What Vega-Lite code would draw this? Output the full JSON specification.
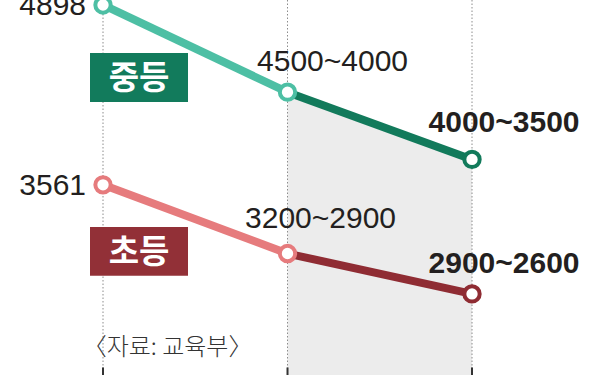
{
  "$schema": "https://vega.github.io/schema/vega-lite/v6.json",
  "width": 615,
  "height": 375,
  "autosize": {"type": "none"},
  "padding": 0,
  "background": "#ffffff",
  "config": {"view": {"stroke": null}},
  "data": {
    "values": [
      {"series": "중등", "idx": 0, "value": 4898, "label": "4898"},
      {"series": "중등", "idx": 1, "value": 4250, "label": "4500~4000"},
      {"series": "중등", "idx": 2, "value": 3750, "label": "4000~3500"},
      {"series": "초등", "idx": 0, "value": 3561, "label": "3561"},
      {"series": "초등", "idx": 1, "value": 3050, "label": "3200~2900"},
      {"series": "초등", "idx": 2, "value": 2750, "label": "2900~2600"}
    ]
  },
  "layer": [
    {
      "transform": [{"filter": "datum.series == '중등' && datum.idx >= 1"}],
      "mark": {"type": "area", "color": "#ececec"},
      "encoding": {
        "x": {"field": "idx", "type": "quantitative", "scale": {"domain": [-0.5583, 2.775], "nice": false, "zero": false}, "axis": null},
        "y": {"field": "value", "type": "quantitative", "scale": {"domain": [2147, 4935], "nice": false, "zero": false}, "axis": null},
        "y2": {"datum": 2147}
      }
    },
    {
      "transform": [{"filter": "datum.series == '중등'"}],
      "mark": {"type": "rule", "color": "#8c8c8c", "strokeWidth": 1, "strokeDash": [1.5, 2]},
      "encoding": {
        "x": {"field": "idx", "type": "quantitative", "scale": {"domain": [-0.5583, 2.775], "nice": false, "zero": false}, "axis": null}
      }
    },
    {
      "transform": [{"filter": "datum.series == '중등'"}],
      "mark": {"type": "rule", "color": "#333333", "strokeWidth": 2},
      "encoding": {
        "x": {"field": "idx", "type": "quantitative", "scale": {"domain": [-0.5583, 2.775], "nice": false, "zero": false}, "axis": null},
        "y": {"datum": 2147, "type": "quantitative", "scale": {"domain": [2147, 4935], "nice": false, "zero": false}, "axis": null},
        "y2": {"datum": 2203}
      }
    },
    {
      "transform": [{"filter": "datum.series == '중등' && datum.idx <= 1"}],
      "mark": {"type": "line", "color": "#4dbfa4", "strokeWidth": 8},
      "encoding": {
        "x": {"field": "idx", "type": "quantitative", "scale": {"domain": [-0.5583, 2.775], "nice": false, "zero": false}, "axis": null},
        "y": {"field": "value", "type": "quantitative", "scale": {"domain": [2147, 4935], "nice": false, "zero": false}, "axis": null}
      }
    },
    {
      "transform": [{"filter": "datum.series == '중등' && datum.idx >= 1"}],
      "mark": {"type": "line", "color": "#127a5b", "strokeWidth": 8},
      "encoding": {
        "x": {"field": "idx", "type": "quantitative", "scale": {"domain": [-0.5583, 2.775], "nice": false, "zero": false}, "axis": null},
        "y": {"field": "value", "type": "quantitative", "scale": {"domain": [2147, 4935], "nice": false, "zero": false}, "axis": null}
      }
    },
    {
      "transform": [{"filter": "datum.series == '초등' && datum.idx <= 1"}],
      "mark": {"type": "line", "color": "#e67b7d", "strokeWidth": 8},
      "encoding": {
        "x": {"field": "idx", "type": "quantitative", "scale": {"domain": [-0.5583, 2.775], "nice": false, "zero": false}, "axis": null},
        "y": {"field": "value", "type": "quantitative", "scale": {"domain": [2147, 4935], "nice": false, "zero": false}, "axis": null}
      }
    },
    {
      "transform": [{"filter": "datum.series == '초등' && datum.idx >= 1"}],
      "mark": {"type": "line", "color": "#8f2c33", "strokeWidth": 8},
      "encoding": {
        "x": {"field": "idx", "type": "quantitative", "scale": {"domain": [-0.5583, 2.775], "nice": false, "zero": false}, "axis": null},
        "y": {"field": "value", "type": "quantitative", "scale": {"domain": [2147, 4935], "nice": false, "zero": false}, "axis": null}
      }
    },
    {
      "mark": {"type": "point", "shape": "circle", "filled": true, "fill": "#ffffff", "size": 235, "strokeWidth": 4, "opacity": 1},
      "encoding": {
        "x": {"field": "idx", "type": "quantitative", "scale": {"domain": [-0.5583, 2.775], "nice": false, "zero": false}, "axis": null},
        "y": {"field": "value", "type": "quantitative", "scale": {"domain": [2147, 4935], "nice": false, "zero": false}, "axis": null},
        "stroke": {
          "condition": [
            {"test": "datum.series == '중등' && datum.idx < 2", "value": "#4dbfa4"},
            {"test": "datum.series == '중등'", "value": "#127a5b"},
            {"test": "datum.idx < 2", "value": "#e67b7d"}
          ],
          "value": "#8f2c33"
        }
      }
    },
    {
      "transform": [{"filter": "datum.idx == 0"}],
      "mark": {"type": "text", "align": "right", "baseline": "middle", "dx": -17, "dy": 1, "font": "Liberation Sans, Arial, sans-serif", "fontSize": 30, "color": "#231f20"},
      "encoding": {
        "x": {"field": "idx", "type": "quantitative", "scale": {"domain": [-0.5583, 2.775], "nice": false, "zero": false}, "axis": null},
        "y": {"field": "value", "type": "quantitative", "scale": {"domain": [2147, 4935], "nice": false, "zero": false}, "axis": null},
        "text": {"field": "label"}
      }
    },
    {
      "transform": [{"filter": "datum.idx == 1 && datum.series == '중등'"}],
      "mark": {"type": "text", "align": "center", "baseline": "middle", "dx": 45, "dy": -30, "font": "Liberation Sans, Arial, sans-serif", "fontSize": 30, "color": "#231f20"},
      "encoding": {
        "x": {"field": "idx", "type": "quantitative", "scale": {"domain": [-0.5583, 2.775], "nice": false, "zero": false}, "axis": null},
        "y": {"field": "value", "type": "quantitative", "scale": {"domain": [2147, 4935], "nice": false, "zero": false}, "axis": null},
        "text": {"field": "label"}
      }
    },
    {
      "transform": [{"filter": "datum.idx == 1 && datum.series == '초등'"}],
      "mark": {"type": "text", "align": "center", "baseline": "middle", "dx": 33, "dy": -35, "font": "Liberation Sans, Arial, sans-serif", "fontSize": 30, "color": "#231f20"},
      "encoding": {
        "x": {"field": "idx", "type": "quantitative", "scale": {"domain": [-0.5583, 2.775], "nice": false, "zero": false}, "axis": null},
        "y": {"field": "value", "type": "quantitative", "scale": {"domain": [2147, 4935], "nice": false, "zero": false}, "axis": null},
        "text": {"field": "label"}
      }
    },
    {
      "transform": [{"filter": "datum.idx == 2 && datum.series == '중등'"}],
      "mark": {"type": "text", "align": "center", "baseline": "middle", "dx": 32, "dy": -36, "font": "Liberation Sans, Arial, sans-serif", "fontSize": 30, "fontWeight": "bold", "color": "#231f20"},
      "encoding": {
        "x": {"field": "idx", "type": "quantitative", "scale": {"domain": [-0.5583, 2.775], "nice": false, "zero": false}, "axis": null},
        "y": {"field": "value", "type": "quantitative", "scale": {"domain": [2147, 4935], "nice": false, "zero": false}, "axis": null},
        "text": {"field": "label"}
      }
    },
    {
      "transform": [{"filter": "datum.idx == 2 && datum.series == '초등'"}],
      "mark": {"type": "text", "align": "center", "baseline": "middle", "dx": 32, "dy": -30, "font": "Liberation Sans, Arial, sans-serif", "fontSize": 30, "fontWeight": "bold", "color": "#231f20"},
      "encoding": {
        "x": {"field": "idx", "type": "quantitative", "scale": {"domain": [-0.5583, 2.775], "nice": false, "zero": false}, "axis": null},
        "y": {"field": "value", "type": "quantitative", "scale": {"domain": [2147, 4935], "nice": false, "zero": false}, "axis": null},
        "text": {"field": "label"}
      }
    },
    {
      "data": {"values": [{"name": "중등"}]},
      "mark": {"type": "rect", "color": "#127b5c"},
      "encoding": {
        "x": {"datum": -0.0705, "type": "quantitative", "scale": {"domain": [-0.5583, 2.775], "nice": false, "zero": false}, "axis": null},
        "x2": {"datum": 0.4607},
        "y": {"datum": 4541, "type": "quantitative", "scale": {"domain": [2147, 4935], "nice": false, "zero": false}, "axis": null},
        "y2": {"datum": 4177}
      }
    },
    {
      "data": {"values": [{"name": "초등"}]},
      "mark": {"type": "rect", "color": "#923037"},
      "encoding": {
        "x": {"datum": -0.0705, "type": "quantitative", "scale": {"domain": [-0.5583, 2.775], "nice": false, "zero": false}, "axis": null},
        "x2": {"datum": 0.4607},
        "y": {"datum": 3248, "type": "quantitative", "scale": {"domain": [2147, 4935], "nice": false, "zero": false}, "axis": null},
        "y2": {"datum": 2884}
      }
    },
    {
      "data": {"values": [{"name": "중등"}]},
      "mark": {"type": "text", "align": "center", "baseline": "middle", "dy": 2, "font": "Noto Sans CJK KR", "fontSize": 33, "fontWeight": "bold", "color": "#ffffff"},
      "encoding": {
        "x": {"datum": 0.195, "type": "quantitative", "scale": {"domain": [-0.5583, 2.775], "nice": false, "zero": false}, "axis": null},
        "y": {"datum": 4359, "type": "quantitative", "scale": {"domain": [2147, 4935], "nice": false, "zero": false}, "axis": null},
        "text": {"field": "name"}
      }
    },
    {
      "data": {"values": [{"name": "초등"}]},
      "mark": {"type": "text", "align": "center", "baseline": "middle", "dy": 2, "font": "Noto Sans CJK KR", "fontSize": 33, "fontWeight": "bold", "color": "#ffffff"},
      "encoding": {
        "x": {"datum": 0.195, "type": "quantitative", "scale": {"domain": [-0.5583, 2.775], "nice": false, "zero": false}, "axis": null},
        "y": {"datum": 3066, "type": "quantitative", "scale": {"domain": [2147, 4935], "nice": false, "zero": false}, "axis": null},
        "text": {"field": "name"}
      }
    },
    {
      "data": {"values": [{"source": "〈자료: 교육부〉"}]},
      "mark": {"type": "text", "align": "left", "baseline": "middle", "font": "Noto Sans CJK KR", "fontSize": 24, "fontWeight": 300, "color": "#333333"},
      "encoding": {
        "x": {"datum": -0.11, "type": "quantitative", "scale": {"domain": [-0.5583, 2.775], "nice": false, "zero": false}, "axis": null},
        "y": {"datum": 2348, "type": "quantitative", "scale": {"domain": [2147, 4935], "nice": false, "zero": false}, "axis": null},
        "text": {"field": "source"}
      }
    }
  ]
}
